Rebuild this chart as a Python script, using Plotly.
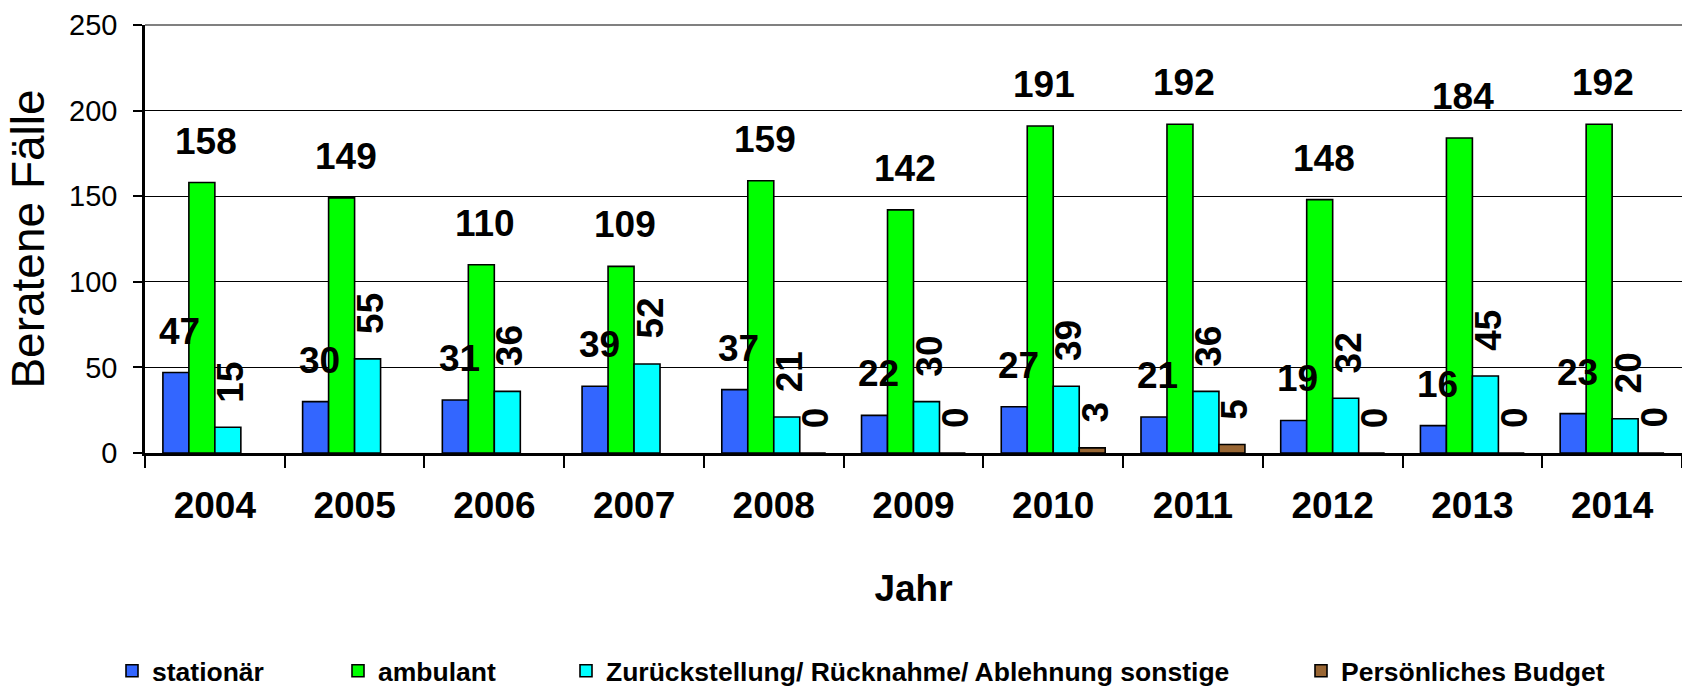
import plotly.graph_objects as go

years = ["2004", "2005", "2006", "2007", "2008", "2009", "2010", "2011", "2012", "2013", "2014"]
stationaer = [47, 30, 31, 39, 37, 22, 27, 21, 19, 16, 23]
ambulant = [158, 149, 110, 109, 159, 142, 191, 192, 148, 184, 192]
zurueck = [15, 55, 36, 52, 21, 30, 39, 36, 32, 45, 20]
budget = [None, None, None, None, 0, 0, 3, 5, 0, 0, 0]

names = ["stationär", "ambulant", "Zurückstellung/ Rücknahme/ Ablehnung sonstige", "Persönliches Budget"]
colors = ["#3366FF", "#00FF00", "#00FFFF", "#996633"]
series = [stationaer, ambulant, zurueck, budget]
rotated = [False, False, True, True]

FONT = "Liberation Sans, Arial, sans-serif"
W, H = 1682, 688
ML, MR, MT, MB = 145, 0, 25, 235
BARGAP = 0.256
plot_w = W - ML - MR
plot_h = H - MT - MB
bar_px = plot_w / len(years) * (1 - BARGAP) / len(series)

fig = go.Figure()
legend_ids = ["legend", "legend2", "legend3", "legend4"]
for i, (nm, col, vals) in enumerate(zip(names, colors, series)):
    fig.add_trace(go.Bar(
        x=years, y=vals, name="<b>%s</b>" % nm, legend=legend_ids[i],
        marker=dict(color=col, line=dict(color="black", width=1.6)),
    ))

for i, (vals, rot) in enumerate(zip(series, rotated)):
    off = (i - (len(series) - 1) / 2) * bar_px
    for j, v in enumerate(vals):
        if v is None:
            continue
        fig.add_annotation(
            x=j, y=v, xref="x", yref="y", text="<b>%d</b>" % v, showarrow=False,
            textangle=-90 if rot else 0,
            xanchor="center", yanchor="bottom",
            xshift=off + (4 if not rot else 3),
            yshift=23 if rot else 19,
            font=dict(family=FONT, size=37, color="black"),
        )

legend_x = [112, 338, 566, 1301]
for i, lid in enumerate(legend_ids):
    fig.update_layout({lid: dict(
        x=(legend_x[i] - ML) / plot_w, xanchor="left",
        y=(H - MB - 671) / plot_h, yanchor="middle",
        orientation="h", bgcolor="rgba(0,0,0,0)",
        font=dict(family=FONT, size=26.5, color="black"),
    )})

fig.update_layout(
    width=W, height=H, showlegend=True,
    margin=dict(l=ML, r=MR, t=MT, b=MB, autoexpand=False),
    paper_bgcolor="white", plot_bgcolor="white",
    barmode="group", bargap=BARGAP, bargroupgap=0,
    font=dict(family=FONT, color="black"),
    xaxis=dict(
        type="category", range=[-0.5, len(years) - 0.5],
        showline=True, linecolor="black", linewidth=2.5,
        ticks="outside", tickson="boundaries", ticklen=12, tickwidth=2, tickcolor="black",
        tickfont=dict(family=FONT, size=37, color="black"),
        tickprefix="<b>", ticksuffix="</b>",
        ticklabelstandoff=18,
        showgrid=False, zeroline=False,
        title=dict(text="\u00a0\u00a0\u00a0<b>Jahr</b>", font=dict(family=FONT, size=37, color="black"), standoff=50),
        automargin=False,
    ),
    yaxis=dict(
        range=[0, 250], tickvals=[0, 50, 100, 150, 200, 250],
        showline=True, linecolor="black", linewidth=2.5,
        ticks="outside", ticklen=9, tickwidth=2, tickcolor="black",
        tickfont=dict(family=FONT, size=29, color="black"),
        ticklabelstandoff=10,
        showgrid=True, gridcolor="black", gridwidth=1.3,
        zeroline=False,
        title=dict(text="Beratene Fälle", font=dict(family=FONT, size=46, color="black"), standoff=10),
        automargin=False,
    ),
    shapes=[dict(type="line", xref="paper", yref="paper", x0=0, x1=1, y0=1, y1=1,
                 line=dict(color="#808080", width=2), layer="above")],
)

fig.write_html("out.html", config={"displayModeBar": False},
               post_script="document.body.style.margin='0';document.body.style.overflow='hidden';")
